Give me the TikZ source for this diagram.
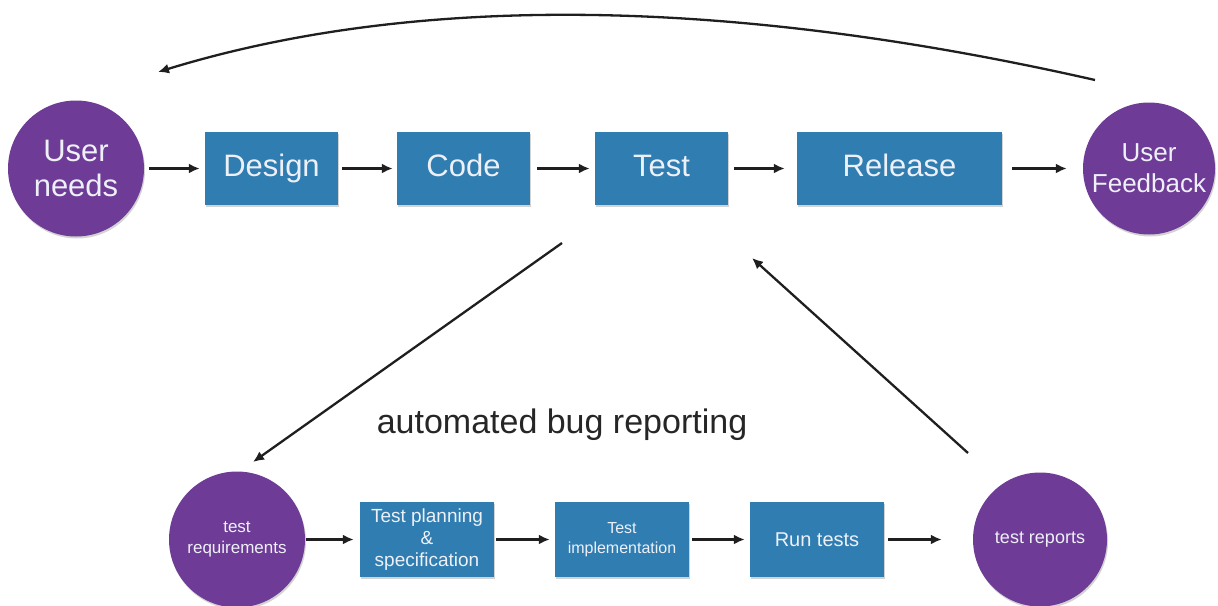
\documentclass[tikz,border=0pt]{standalone}
\usepackage{fontspec}
\setmainfont{Liberation Sans}
\usetikzlibrary{arrows.meta,shadows}
\definecolor{boxblue}{HTML}{2F7DB1}
\definecolor{circpurple}{HTML}{6E3C96}
\definecolor{txtw}{HTML}{EEF0F8}
\newcommand{\fsz}[2]{\fontsize{#1}{#2}\selectfont}
\begin{document}
\begin{tikzpicture}[x=1pt,y=-1pt,
  box/.style={fill=boxblue, text=txtw, inner sep=0pt, align=center,
    drop shadow={shadow xshift=1pt, shadow yshift=-2pt, opacity=0.35}},
  topbox/.style={box, minimum height=73pt, font=\fsz{31}{36}, text height=22pt, text depth=6pt},
  circ/.style={circle, fill=circpurple, text=txtw, inner sep=0pt, align=center,
    drop shadow={shadow xshift=1pt, shadow yshift=-2pt, opacity=0.35}},
  arr/.style={-{Latex[length=11pt,width=10pt]}, line width=2.3pt, black!88}]
\useasboundingbox (0,0) rectangle (1218,605);

% top row
\node[circ, minimum size=136pt, font=\fsz{31}{35}] (un) at (76,168.5) {User\\needs};
\node[topbox, minimum width=133pt] (des) at (271.5,168.5) {Design};
\node[topbox, minimum width=133pt] (cod) at (463.5,168.5) {Code};
\node[topbox, minimum width=133pt] (tst) at (661.5,168.5) {Test};
\node[topbox, minimum width=205pt] (rel) at (899.5,168.5) {Release};
\node[circ, minimum size=132pt, font=\fsz{26}{31}] (uf) at (1149,168.5) {User\\Feedback};

% bottom row
\node[circ, minimum size=136pt, font=\fsz{17}{21}] (tr) at (237,539.5) {test\\requirements};
\node[box, minimum width=134pt, minimum height=75pt, font=\fsz{19}{22}] (tp) at (427,539.5) {Test planning\\\&\\specification};
\node[box, minimum width=134pt, minimum height=75pt, font=\fsz{16}{20}] (ti) at (622,539.5) {Test\\implementation};
\node[box, minimum width=134pt, minimum height=75pt, font=\fsz{20}{24}] (rt) at (817,539.5) {Run tests};
\node[circ, minimum size=134pt, font=\fsz{18}{22}] (rep) at (1040,539.5) {test reports};

% label
\node[font=\fsz{34}{40}, text=black!85, anchor=base] (abr) at (562,433) {automated bug reporting};

% horizontal arrows top
\draw[arr, shorten <=5pt, shorten >=5pt] (un) -- (des);
\draw[arr, shorten <=4pt, shorten >=4pt] (des) -- (cod);
\draw[arr, shorten <=7pt, shorten >=5pt] (cod) -- (tst);
\draw[arr, shorten <=6pt, shorten >=12pt] (tst) -- (rel);
\draw[arr, shorten <=10pt, shorten >=16pt] (rel) -- (uf);

% horizontal arrows bottom
\draw[arr, shorten <=1pt, shorten >=6pt] (tr) -- (tp);
\draw[arr, shorten <=2pt, shorten >=5pt] (tp) -- (ti);
\draw[arr, shorten <=3pt, shorten >=5pt] (ti) -- (rt);
\draw[arr, shorten <=4pt, shorten >=31pt] (rt) -- (rep);

% free-end connectors
\coordinate (fbs) at (1095,80);
\coordinate (une) at (158,72);
\coordinate (d1s) at (562,243);
\coordinate (d1e) at (253,462);
\coordinate (d2s) at (968,453);
\coordinate (d2e) at (752,258);
\draw[arr] (fbs) .. controls (725,-4) and (412,-6) .. (une);
\draw[arr] (d1s) -- (d1e);
\draw[arr] (d2s) -- (d2e);
\end{tikzpicture}
\end{document}
